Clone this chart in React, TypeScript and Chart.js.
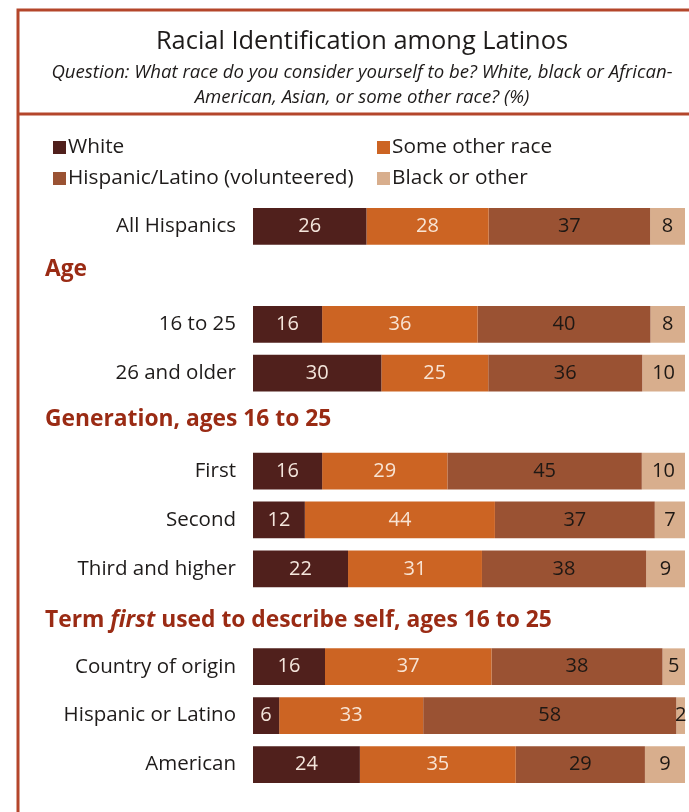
import React, { useEffect, useRef } from "react";
import { Chart, registerables } from "chart.js";

Chart.register(...registerables);

const TITLE = "Racial Identification among Latinos";
const SUBTITLE_LINES = [
  "Question: What race do you consider yourself to be? White, black or African-",
  "American, Asian, or some other race? (%)",
];

// Rows of the chart; heading rows hold no bars
const categories = [
  "All Hispanics",
  "Age",
  "16 to 25",
  "26 and older",
  "Generation, ages 16 to 25",
  "First",
  "Second",
  "Third and higher",
  "Term first used to describe self, ages 16 to 25",
  "Country of origin",
  "Hispanic or Latino",
  "American",
];
const headingRows = [
  "Age",
  "Generation, ages 16 to 25",
  "Term first used to describe self, ages 16 to 25",
];

const seriesNames = [
  "White",
  "Some other race",
  "Hispanic/Latino (volunteered)",
  "Black or other",
];
const white = [26, null, 16, 30, null, 16, 12, 22, null, 16, 6, 24];
const someOther = [28, null, 36, 25, null, 29, 44, 31, null, 37, 33, 35];
const hispanicLatino = [37, null, 40, 36, null, 45, 37, 38, null, 38, 58, 29];
const blackOther = [8, null, 8, 10, null, 10, 7, 9, null, 5, 2, 9];

const seriesColors = ["#50201c", "#cc6423", "#9a5233", "#d8ae8d"];
const labelColors = ["#f4e6dc", "#f8e4d4", "#1e1814", "#1e1814"];
const legendOrder = [0, 2, 1, 3]; // left col: White, Hispanic; right col: Some other, Black

const FONT = "'Open Sans', sans-serif";
const BORDER = "#b4462b";
const HEAD = "#9a2b14";
const TEXT = "#1e1b1a";

const rawSeries = [white, someOther, hispanicLatino, blackOther];

export default function App() {
  const ref = useRef<HTMLCanvasElement | null>(null);

  useEffect(() => {
    if (!ref.current) return;
    const totals = categories.map((_, i) =>
      rawSeries.reduce((s, arr) => s + (arr[i] ?? 0), 0)
    );
    const datasets = rawSeries.map((arr, k) => ({
      label: seriesNames[k],
      data: arr.map((v, i) => (v == null ? null : (v / totals[i]) * 100)),
      raw: arr,
      backgroundColor: seriesColors[k],
      borderWidth: 0,
      barPercentage: 1,
      categoryPercentage: 0.75,
    }));

    const headingOffsets = [-6, -3, 3];

    const frame = {
      id: "frame",
      beforeDraw(chart: any) {
        const ctx = chart.ctx;
        ctx.save();
        ctx.fillStyle = "#ffffff";
        ctx.fillRect(0, 0, chart.width, chart.height);
        ctx.strokeStyle = BORDER;
        ctx.lineWidth = 3;
        ctx.beginPath();
        ctx.moveTo(18, 10);
        ctx.lineTo(chart.width + 2, 10);
        ctx.moveTo(18, 114);
        ctx.lineTo(chart.width + 2, 114);
        ctx.moveTo(18, 8.5);
        ctx.lineTo(18, chart.height + 2);
        ctx.stroke();

        // title
        ctx.fillStyle = TEXT;
        ctx.textAlign = "center";
        ctx.textBaseline = "middle";
        ctx.font = `25.4px ${FONT}`;
        ctx.fillText(TITLE, 362, 42);
        ctx.font = `italic 18.6px ${FONT}`;
        ctx.fillText(SUBTITLE_LINES[0], 362, 73);
        ctx.fillText(SUBTITLE_LINES[1], 362, 98);

        // legend
        ctx.textAlign = "left";
        ctx.font = `20.8px ${FONT}`;
        const pos = [
          [53, 147],
          [53, 178],
          [377, 147],
          [377, 178],
        ];
        legendOrder.forEach((k, j) => {
          const [x, y] = pos[j];
          ctx.fillStyle = seriesColors[k];
          ctx.fillRect(x, y - 6, 13, 13);
          ctx.fillStyle = TEXT;
          ctx.fillText(seriesNames[k], x + 15, y);
        });

        // headings
        const ys = chart.scales.y;
        ctx.fillStyle = HEAD;
        headingRows.forEach((h, hi) => {
          const idx = categories.indexOf(h);
          const y = ys.getPixelForValue(idx) + headingOffsets[hi];
          let x = 45;
          const parts = h.includes(" first ")
            ? [
                ["Term ", "bold"],
                ["first", "italic bold"],
                [" used to describe self, ages 16 to 25", "bold"],
              ]
            : [[h, "bold"]];
          parts.forEach(([t, st]) => {
            ctx.font = `${st} 22.8px ${FONT}`;
            ctx.fillText(t, x, y);
            x += ctx.measureText(t).width;
          });
        });
        ctx.restore();
      },
    };

    const barLabels = {
      id: "barLabels",
      afterDatasetsDraw(chart: any) {
        const ctx = chart.ctx;
        ctx.save();
        ctx.font = `20px ${FONT}`;
        ctx.textAlign = "center";
        ctx.textBaseline = "middle";
        chart.data.datasets.forEach((ds: any, k: number) => {
          const meta = chart.getDatasetMeta(k);
          meta.data.forEach((bar: any, i: number) => {
            const v = ds.raw[i];
            if (v == null) return;
            const cx = (bar.x + bar.base) / 2;
            ctx.fillStyle = labelColors[k];
            ctx.fillText(String(v), cx, bar.y);
          });
        });
        ctx.restore();
      },
    };

    const chart = new Chart(ref.current, {
      type: "bar",
      data: { labels: categories, datasets: datasets as any },
      options: {
        indexAxis: "y",
        animation: false,
        responsive: true,
        maintainAspectRatio: false,
        layout: { padding: { left: 0, top: 202, right: 4, bottom: 23 } },
        plugins: {
          legend: { display: false },
          tooltip: { enabled: false },
          title: { display: false },
        },
        scales: {
          x: { stacked: true, min: 0, max: 100, display: false },
          y: {
            stacked: true,
            grid: { display: false, drawTicks: false },
            border: { display: false },
            afterFit: (scale: any) => {
              scale.width = 253;
              scale.paddingTop = 0;
              scale.paddingBottom = 0;
            },
            ticks: {
              autoSkip: false,
              padding: 17,
              color: TEXT,
              font: { family: FONT, size: 20.5 },
              callback: (_v: any, i: number) =>
                headingRows.includes(categories[i]) ? "" : categories[i],
            },
          },
        },
      },
      plugins: [frame, barLabels],
    });
    return () => chart.destroy();
  }, []);

  return (
    <div
      style={{
        position: "absolute",
        left: 0,
        top: 0,
        width: 689,
        height: 812,
        background: "#fff",
      }}
    >
      <canvas ref={ref} />
    </div>
  );
}
